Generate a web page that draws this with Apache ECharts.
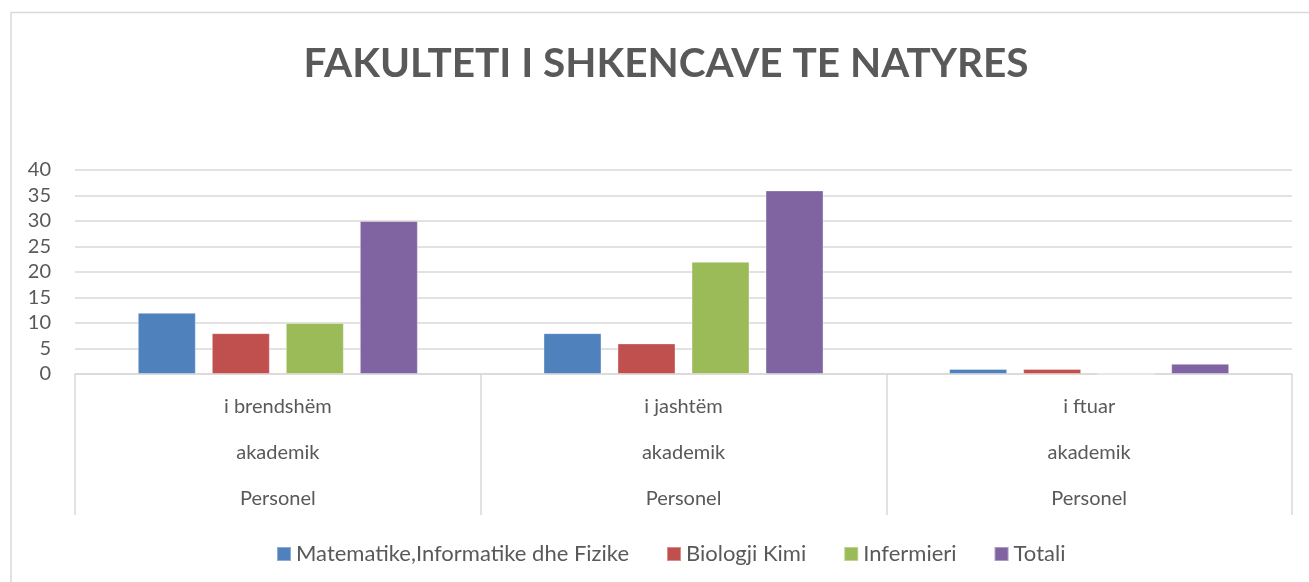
<!DOCTYPE html>
<html>
<head>
<meta charset="utf-8">
<script src="https://cdn.jsdelivr.net/npm/echarts@6/dist/echarts.min.js"></script>
<style>
html,body{margin:0;padding:0;background:#fff;}
#c{width:1309px;height:582px;}
</style>
</head>
<body>
<div id="c"></div>
<script>
const titleText = 'FAKULTETI I SHKENCAVE TE NATYRES';
const categories = ['i brendshëm\nakademik\nPersonel', 'i jashtëm\nakademik\nPersonel', 'i ftuar\nakademik\nPersonel'];
const seriesNames = ['Matematike,Informatike dhe Fizike', 'Biologji Kimi', 'Infermieri', 'Totali'];
const matematike = [12, 8, 1];
const biologji = [8, 6, 1];
const infermieri = [10, 22, 0];
const totali = [30, 36, 2];
const yTicks = [0, 5, 10, 15, 20, 25, 30, 35, 40];

const colors = ['#4F81BD', '#C0504D', '#9BBB59', '#8064A2'];
const values = [matematike, biologji, infermieri, totali];
const font = 'Lato, "Open Sans", sans-serif';

const chart = echarts.init(document.getElementById('c'), null, {renderer: 'canvas'});
chart.setOption({
  animation: false,
  color: colors,
  graphic: [{
    type: 'polyline',
    shape: {points: [[11, 600], [11, 12.5], [1320, 12.5]]},
    style: {stroke: '#d9d9d9', lineWidth: 1.5, fill: null},
    silent: true
  }, {
    type: 'text',
    x: 666,
    y: 64,
    style: {
      text: titleText,
      fontFamily: font, fontSize: 40.5, fontWeight: 'bold', fill: '#595959',
      align: 'center', verticalAlign: 'middle'
    },
    silent: true
  }],
  legend: {
    top: 538,
    left: 271,
    itemWidth: 14,
    itemHeight: 14,
    itemGap: 37,
    icon: 'rect',
    textStyle: {fontFamily: font, fontSize: 22, color: '#595959'},
    data: seriesNames
  },
  grid: {left: 75, right: 17, top: 170, bottom: 208, containLabel: false},
  xAxis: {
    type: 'category',
    data: categories,
    axisLine: {lineStyle: {color: '#d9d9d9', width: 1.5}},
    axisTick: {show: true, length: 141, lineStyle: {color: '#d9d9d9', width: 1.5}},
    axisLabel: {fontFamily: font, fontSize: 20, color: '#595959', lineHeight: 46, margin: 10}
  },
  yAxis: {
    type: 'value',
    min: yTicks[0],
    max: yTicks[yTicks.length - 1],
    interval: 5,
    axisLine: {show: false},
    axisTick: {show: false},
    splitLine: {lineStyle: {color: '#d9d9d9', width: 1.5}},
    axisLabel: {fontFamily: font, fontSize: 20, color: '#595959', margin: 24}
  },
  series: seriesNames.map((n, i) => ({
    name: n,
    type: 'bar',
    data: values[i],
    barWidth: 58,
    barGap: '27.6%',
    itemStyle: {borderColor: 'rgba(255,255,255,0.35)', borderWidth: 1}
  }))
});
</script>
</body>
</html>
